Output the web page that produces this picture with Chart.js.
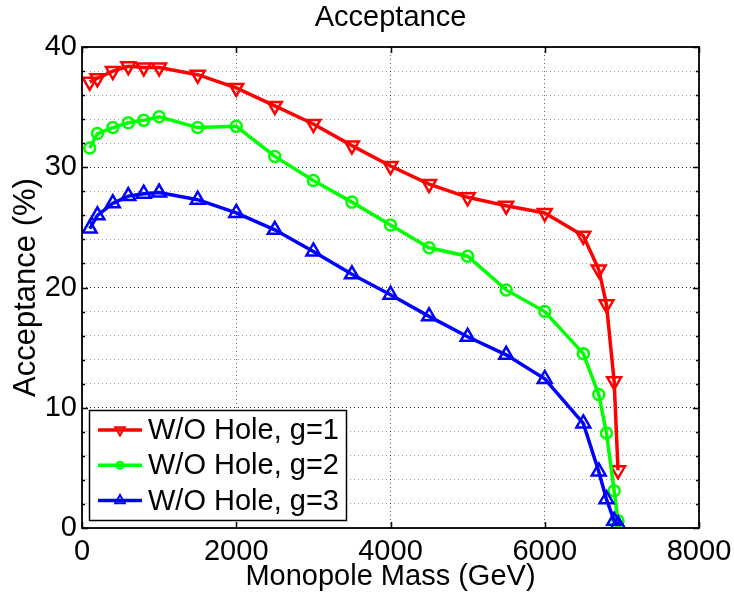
<!DOCTYPE html>
<html>
<head>
<meta charset="utf-8">
<title>Acceptance</title>
<script src="https://cdn.jsdelivr.net/npm/chart.js@4.4.1/dist/chart.umd.min.js"></script>
<style>
  html, body { margin: 0; padding: 0; background: #fff; }
  canvas { display: block; }
</style>
</head>
<body>
<canvas id="accChart" width="734" height="596"></canvas>
<script>
// monopole mass points (GeV)
const masses = [100, 200, 400, 600, 800, 1000, 1500, 2000, 2500, 3000, 3500, 4000, 4500, 5000, 5500, 6000, 6500, 6700, 6800, 6900, 6950];

// acceptance (%) without hole, per magnetic charge
const accG1 = [37.1, 37.4, 38.0, 38.4, 38.3, 38.3, 37.7, 36.6, 35.1, 33.6, 31.8, 30.1, 28.6, 27.5, 26.8, 26.2, 24.3, 21.5, 18.6, 12.2, 4.8];
const accG2 = [31.6, 32.8, 33.3, 33.7, 33.9, 34.2, 33.3, 33.4, 30.9, 28.9, 27.1, 25.2, 23.3, 22.6, 19.8, 18.0, 14.5, 11.1, 7.9, 3.1, 0.6];
const accG3 = [24.9, 26.0, 27.0, 27.6, 27.8, 27.9, 27.3, 26.2, 24.8, 23.0, 21.1, 19.4, 17.6, 15.9, 14.4, 12.4, 8.7, 4.7, 2.4, 0.6, 0.3];

const seriesLabels = ["W/O Hole, g=1", "W/O Hole, g=2", "W/O Hole, g=3"];
const xTicks = [0, 2000, 4000, 6000, 8000];
const yTicks = [0, 10, 20, 30, 40];
const chartTitle = "Acceptance";

const FONT = "'Liberation Sans', Arial, Helvetica, sans-serif";

const toPoints = (ys) => masses.map((m, i) => ({ x: m, y: ys[i] }));

// title centred over the axes, not the whole canvas
const axesTitle = {
  id: "axesTitle",
  afterDraw(chart) {
    const { ctx, chartArea: a } = chart;
    ctx.save();
    ctx.fillStyle = "#000";
    ctx.font = "29px " + FONT;
    ctx.textAlign = "center";
    ctx.textBaseline = "alphabetic";
    ctx.fillText(chartTitle, (a.left + a.right) / 2, 26);
    ctx.restore();
  },
};

// black box round the axes with inward tick marks, matlab style
const axesBox = {
  id: "axesBox",
  afterDatasetsDraw(chart) {
    const { ctx, chartArea: a, scales } = chart;
    ctx.save();
    ctx.strokeStyle = "#000";
    ctx.lineWidth = 1.5;
    ctx.beginPath();
    xTicks.forEach((v) => {
      const px = Math.round(scales.x.getPixelForValue(v)) + 0.5;
      ctx.moveTo(px, a.bottom); ctx.lineTo(px, a.bottom - 6);
      ctx.moveTo(px, a.top); ctx.lineTo(px, a.top + 6);
    });
    for (let v = 0; v <= 40; v += 2) {
      const py = Math.round(scales.y.getPixelForValue(v)) + 0.5;
      const len = yTicks.includes(v) ? 6 : 3;
      ctx.moveTo(a.left, py); ctx.lineTo(a.left + len, py);
      ctx.moveTo(a.right, py); ctx.lineTo(a.right - len, py);
    }
    ctx.stroke();
    ctx.lineWidth = 1.8;
    ctx.strokeRect(a.left, a.top, a.right - a.left, a.bottom - a.top);
    ctx.restore();
  },
};

// legend box in the lower left corner of the axes
const boxLegend = {
  id: "boxLegend",
  afterDraw(chart) {
    const ctx = chart.ctx;
    const left = 89.5, top = 410.5, w = 257, h = 110;
    ctx.save();
    ctx.fillStyle = "#fff";
    ctx.fillRect(left, top, w, h);
    ctx.strokeStyle = "#000";
    ctx.lineWidth = 1.5;
    ctx.strokeRect(left, top, w, h);
    chart.data.datasets.forEach((ds, i) => {
      const cy = 430 + i * 35.3;
      ctx.strokeStyle = ds.borderColor;
      ctx.lineWidth = ds.borderWidth;
      ctx.beginPath();
      ctx.moveTo(98, cy);
      ctx.lineTo(142, cy);
      ctx.stroke();
      ctx.fillStyle = "rgba(0,0,0,0)";
      ctx.lineWidth = 2;
      Chart.helpers.drawPoint(ctx, {
        pointStyle: ds.pointStyle,
        rotation: ds.pointRotation || 0,
        radius: ds.pointStyle === "circle" ? 3.5 : 5.5,
        borderWidth: 2,
      }, 120, cy);
      ctx.fillStyle = "#000";
      ctx.font = "29px " + FONT;
      ctx.textBaseline = "middle";
      ctx.textAlign = "left";
      ctx.fillText(ds.label, 148, cy + 1);
    });
    ctx.restore();
  },
};

const makeSet = (label, ys, color, style, rot, order) => ({
  label: label,
  data: toPoints(ys),
  borderColor: color,
  backgroundColor: "rgba(0,0,0,0)",
  borderWidth: 3.5,
  pointStyle: style,
  pointRotation: rot,
  pointRadius: style === "circle" ? 5.5 : 8,
  pointBorderWidth: 2.5,
  pointBackgroundColor: "rgba(0,0,0,0)",
  tension: 0,
  order: order,
});

const gridDark = "rgba(0,0,0,0.85)";
const gridLight = "rgba(0,0,0,0.4)";

new Chart(document.getElementById("accChart"), {
  type: "line",
  data: {
    datasets: [
      makeSet(seriesLabels[0], accG1, "#ff0000", "triangle", 180, 3),
      makeSet(seriesLabels[1], accG2, "#00ff00", "circle", 0, 2),
      makeSet(seriesLabels[2], accG3, "#0000ff", "triangle", 0, 1),
    ],
  },
  options: {
    responsive: false,
    animation: false,
    devicePixelRatio: 1,
    layout: { padding: { left: 0, right: 35, top: 47, bottom: 0 } },
    plugins: {
      legend: { display: false },
      tooltip: { enabled: false },
      title: { display: false },
    },
    scales: {
      x: {
        type: "linear",
        min: 0,
        max: 8000,
        afterFit: (s) => {
          s.height = 68;
          // end labels may hang past the axes
          s.paddingLeft = 0;
          s.paddingRight = 0;
        },
        afterBuildTicks: (s) => { s.ticks = xTicks.map((v) => ({ value: v })); },
        ticks: {
          autoSkip: false,
          maxRotation: 0,
          padding: 7,
          color: "#000",
          font: { family: FONT, size: 29 },
          callback: (v) => String(v),
        },
        grid: {
          drawTicks: false,
          color: "rgba(0,0,0,0.6)",
          lineWidth: 1,
        },
        border: { display: false, dash: [1, 3] },
        title: {
          display: true,
          text: "Monopole Mass (GeV)",
          color: "#000",
          font: { family: FONT, size: 29, lineHeight: 1.2 },
          padding: { top: 0, bottom: 2 },
        },
      },
      y: {
        type: "linear",
        min: 0,
        max: 40,
        afterFit: (s) => { s.width = 82; },
        ticks: {
          stepSize: 2,
          autoSkip: false,
          padding: 5,
          color: "#000",
          font: { family: FONT, size: 29 },
          callback: (v) => (yTicks.includes(v) ? String(v) : ""),
        },
        grid: {
          drawTicks: false,
          color: (c) => (yTicks.includes(c.tick.value) ? gridDark : gridLight),
          lineWidth: 1,
        },
        border: { display: false, dash: [1, 3] },
        title: {
          display: true,
          text: "Acceptance (%)",
          color: "#000",
          font: { family: FONT, size: 31, lineHeight: 1.2 },
          padding: { top: 8, bottom: 0 },
        },
      },
    },
  },
  plugins: [axesTitle, axesBox, boxLegend],
});
</script>
</body>
</html>
